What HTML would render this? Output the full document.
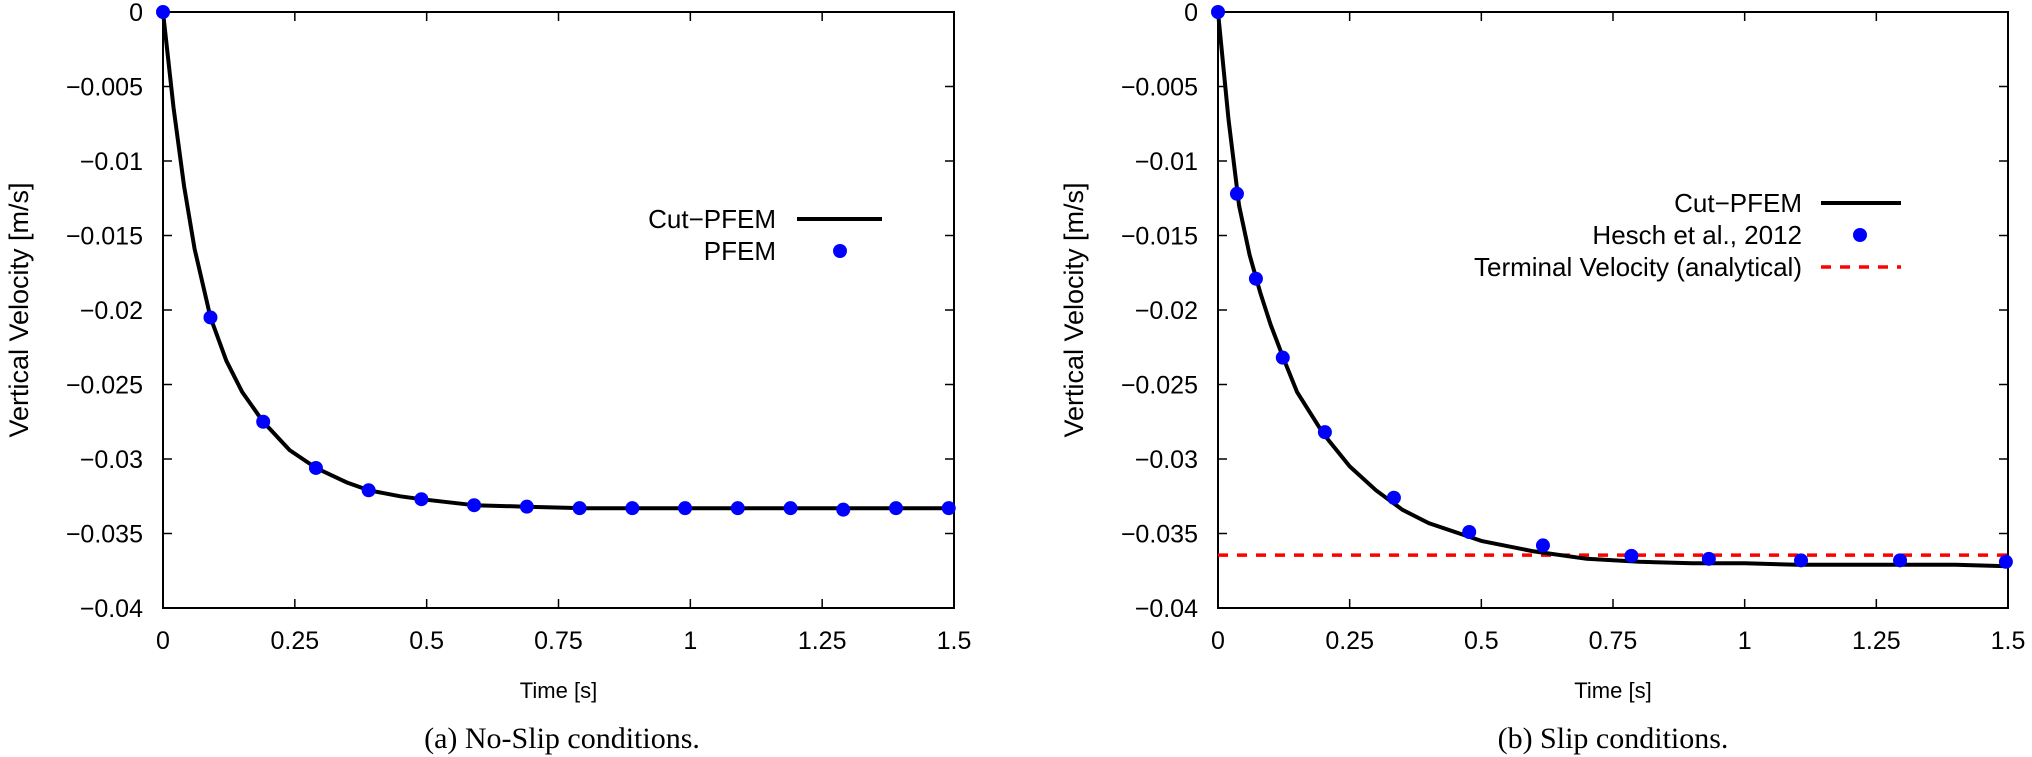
<!DOCTYPE html>
<html><head><meta charset="utf-8"><style>
html,body{margin:0;padding:0;background:#fff;}
svg{display:block;font-family:"Liberation Sans",Arial,sans-serif;}
</style></head><body>
<svg id="fig" width="2032" height="757" viewBox="0 0 2032 757" xmlns="http://www.w3.org/2000/svg">
<g id="pa"></g>
<g id="pb"></g>
<text x="562" y="748" text-anchor="middle" font-family="Liberation Serif, serif" font-size="30">(a) No-Slip conditions.</text>
<text x="1613" y="748" text-anchor="middle" font-family="Liberation Serif, serif" font-size="30">(b) Slip conditions.</text>
</svg>
<script>
const xTicks = [0,0.25,0.5,0.75,1,1.25,1.5];
const xTickLabels = ["0","0.25","0.5","0.75","1","1.25","1.5"];
const yTicks = [0,-0.005,-0.01,-0.015,-0.02,-0.025,-0.03,-0.035,-0.04];
const yTickLabels = ["0","\u22120.005","\u22120.01","\u22120.015","\u22120.02","\u22120.025","\u22120.03","\u22120.035","\u22120.04"];

const aCurveT = [0,0.02,0.04,0.06,0.09,0.12,0.15,0.19,0.24,0.29,0.35,0.39,0.45,0.49,0.59,0.69,0.8,1.0,1.2,1.5];
const aCurveV = [0,-0.0064,-0.0117,-0.0159,-0.0205,-0.0234,-0.0255,-0.0275,-0.0294,-0.0306,-0.0316,-0.0321,-0.0325,-0.0327,-0.0331,-0.0332,-0.0333,-0.0333,-0.0333,-0.0333];
const aPfemT = [0,0.09,0.19,0.29,0.39,0.49,0.59,0.69,0.79,0.89,0.99,1.09,1.19,1.29,1.39,1.49];
const aPfemV = [0,-0.0205,-0.0275,-0.0306,-0.0321,-0.0327,-0.0331,-0.0332,-0.0333,-0.0333,-0.0333,-0.0333,-0.0333,-0.0334,-0.0333,-0.0333];

const bCurveT = [0,0.02,0.04,0.06,0.08,0.1,0.125,0.15,0.2,0.25,0.3,0.35,0.4,0.5,0.6,0.7,0.8,0.9,1.0,1.1,1.25,1.4,1.5];
const bCurveV = [0,-0.0072,-0.0130,-0.0163,-0.0188,-0.0210,-0.0233,-0.0255,-0.0283,-0.0305,-0.0321,-0.0334,-0.0343,-0.0355,-0.0362,-0.0367,-0.0369,-0.0370,-0.0370,-0.0371,-0.0371,-0.0371,-0.0372];
const bHeschT = [0,0.036,0.072,0.123,0.203,0.334,0.477,0.617,0.785,0.932,1.107,1.295,1.496];
const bHeschV = [0,-0.0122,-0.0179,-0.0232,-0.0282,-0.0326,-0.0349,-0.0358,-0.0365,-0.0367,-0.0368,-0.0368,-0.0369];
const bTerminalV = [-0.03645];

const NS="http://www.w3.org/2000/svg";
function mk(parent, tag, attrs){const e=document.createElementNS(NS,tag);for(const k in attrs)e.setAttribute(k,attrs[k]);parent.appendChild(e);return e;}

function panel(g, x0, x1, y0, y1, prefix){
  const sx = t => x0 + (t-0)/(1.5-0)*(x1-x0);
  const sy = v => y0 + (0-v)/(0.04)*(y1-y0);
  xTicks.forEach((t,i)=>{
    const X=sx(t);
    const a=mk(g,'line',{x1:X,y1:y1,x2:X,y2:y1-9,stroke:'#000','stroke-width':1.5});
    
    
    const b=mk(g,'line',{x1:X,y1:y0,x2:X,y2:y0+9,stroke:'#000','stroke-width':1.5});
    
    
    const l=mk(g,'text',{x:X,y:y1+41,'text-anchor':'middle','font-size':25});
    l.textContent=xTickLabels[i];
    
    
  });
  yTicks.forEach((v,i)=>{
    const Y=sy(v);
    const a=mk(g,'line',{x1:x0,y1:Y,x2:x0+9,y2:Y,stroke:'#000','stroke-width':1.5});
    
    
    const b=mk(g,'line',{x1:x1,y1:Y,x2:x1-9,y2:Y,stroke:'#000','stroke-width':1.5});
    
    
    const l=mk(g,'text',{x:x0-20,y:Y+9,'text-anchor':'end','font-size':25});
    l.textContent=yTickLabels[i];
    
    
  });
  const fr=mk(g,'rect',{x:x0,y:y0,width:x1-x0,height:y1-y0,fill:'none',stroke:'#000','stroke-width':2});
  
  
  const xt=mk(g,'text',{x:(x0+x1)/2,y:y1+90,'text-anchor':'middle','font-size':22});
  xt.textContent='Time [s]';
  
  
  const yx=x0-135, yy=(y0+y1)/2;
  const yt=mk(g,'text',{x:yx,y:yy,'text-anchor':'middle','font-size':27,transform:`rotate(-90 ${yx} ${yy})`});
  yt.textContent='Vertical Velocity [m/s]';
  
  
  return {sx,sy};
}

function curve(g,T,V,sx,sy){
  const p=mk(g,'polyline',{points:T.map((t,i)=>sx(t).toFixed(1)+','+sy(V[i]).toFixed(1)).join(' '),fill:'none',stroke:'#000','stroke-width':4,'stroke-linejoin':'round'});
  
  
}
function dots(g,T,V,sx,sy,name){
  T.forEach((t,i)=>{
    const c=mk(g,'circle',{cx:sx(t),cy:sy(V[i]),r:7,fill:'#0000ff'});
    
    
  });
}

// Panel A
const ga=document.getElementById('pa');
const A=panel(ga,163,954,12,608,'a');
curve(ga,aCurveT,aCurveV,A.sx,A.sy);
dots(ga,aPfemT,aPfemV,A.sx,A.sy,'pfem-point');
{
  const t1=mk(ga,'text',{x:776,y:228,'text-anchor':'end','font-size':26});
  t1.textContent='Cut\u2212PFEM';
  
  
  const l1=mk(ga,'line',{x1:797,y1:219,x2:882,y2:219,stroke:'#000','stroke-width':4});
  
  
  const t2=mk(ga,'text',{x:776,y:260,'text-anchor':'end','font-size':26});
  t2.textContent='PFEM';
  
  
  const d2=mk(ga,'circle',{cx:840,cy:251,r:7,fill:'#0000ff'});
  
  
}

// Panel B
const gb=document.getElementById('pb');
const B=panel(gb,1218,2008,12,608,'b');
{
  const ty=B.sy(bTerminalV[0]);
  const d=mk(gb,'line',{x1:1218,y1:ty,x2:2008,y2:ty,stroke:'#ff0000','stroke-width':3.5,'stroke-dasharray':'10 9'});
  
  
}
curve(gb,bCurveT,bCurveV,B.sx,B.sy);
dots(gb,bHeschT,bHeschV,B.sx,B.sy,'hesch-point');
{
  const t1=mk(gb,'text',{x:1802,y:212,'text-anchor':'end','font-size':26});
  t1.textContent='Cut\u2212PFEM';
  
  
  const l1=mk(gb,'line',{x1:1821,y1:203,x2:1901,y2:203,stroke:'#000','stroke-width':4});
  
  
  const t2=mk(gb,'text',{x:1802,y:244,'text-anchor':'end','font-size':26});
  t2.textContent='Hesch et al., 2012';
  
  
  const d2=mk(gb,'circle',{cx:1860,cy:235,r:7,fill:'#0000ff'});
  
  
  const t3=mk(gb,'text',{x:1802,y:276,'text-anchor':'end','font-size':26});
  t3.textContent='Terminal Velocity (analytical)';
  
  
  const l3=mk(gb,'line',{x1:1821,y1:267,x2:1901,y2:267,stroke:'#ff0000','stroke-width':3.5,'stroke-dasharray':'10 9'});
  
  
}
</script>
</body></html>
